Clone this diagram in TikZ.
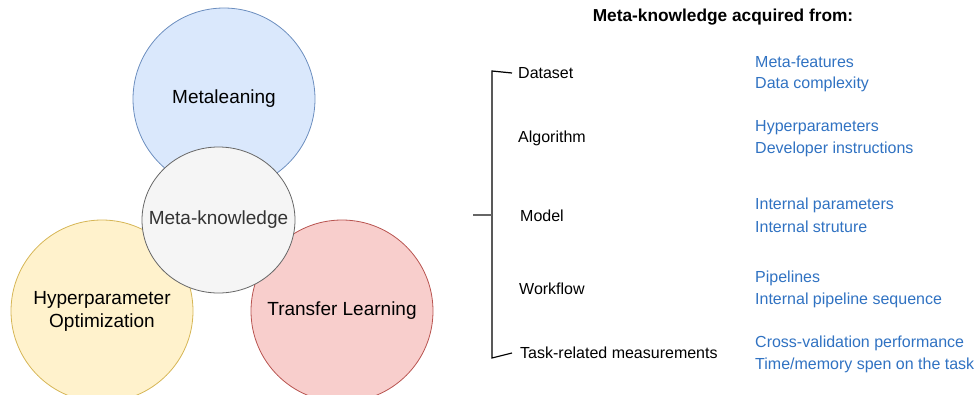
\documentclass[tikz,border=0pt]{standalone}
\usepackage{fontspec}
\setmainfont{Liberation Sans}
\usetikzlibrary{shapes.geometric}
\definecolor{bluefill}{HTML}{DAE8FC}\definecolor{bluedraw}{HTML}{6C8EBF}
\definecolor{grayfill}{HTML}{F5F5F5}\definecolor{graydraw}{HTML}{666666}
\definecolor{yelfill}{HTML}{FFF2CC}\definecolor{yeldraw}{HTML}{D6B656}
\definecolor{redfill}{HTML}{F8CECC}\definecolor{reddraw}{HTML}{B85450}
\definecolor{linkblue}{HTML}{3072C2}
\definecolor{darktext}{HTML}{333333}
\begin{document}
\begin{tikzpicture}[x=1pt,y=-1pt,
  bigcirc/.style={circle,minimum size=182pt,inner sep=0pt,line width=0.8pt,font=\fontsize{19}{23}\selectfont,align=center},
  label/.style={anchor=west,inner sep=0pt,font=\fontsize{16}{19}\selectfont},
  item/.style={anchor=west,inner sep=0pt,font=\fontsize{16}{19}\selectfont,text=linkblue},
  bracket/.style={line width=1.2pt,black}]
\useasboundingbox (0,0) rectangle (978,394);
\node[bigcirc,fill=bluefill,draw=bluedraw] (ml) at (224,99) {Metaleaning};
\node[bigcirc,fill=yelfill,draw=yeldraw] (hpo) at (102,311) {Hyperparameter\\Optimization};
\node[bigcirc,fill=redfill,draw=reddraw] (tl) at (342,311) {Transfer Learning};
\node[ellipse,minimum width=153pt,minimum height=146pt,inner sep=0pt,fill=grayfill,draw=graydraw,line width=0.8pt,font=\fontsize{19}{23}\selectfont,text=darktext] (mk) at (218.5,220) {\makebox[0pt]{Meta-knowledge}};

\node[inner sep=0pt,font=\bfseries\fontsize{17.3}{20}\selectfont] (title) at (723,17) {Meta-knowledge acquired from:};

\node[label] (ds) at (518,73) {Dataset};
\node[label] (alg) at (518,138) {Algorithm};
\node[label] (mod) at (520,216) {Model};
\node[label] (wf) at (519,289) {Workflow};
\node[label] (task) at (520,353) {Task-related measurements};

\node[item] (i1) at (755,62) {Meta-features};
\node[item] (i2) at (755,84) {Data complexity};
\node[item] (i3) at (755,128) {Hyperparameters};
\node[item] (i4) at (755,149) {Developer instructions};
\node[item] (i5) at (755,205) {Internal parameters};
\node[item] (i6) at (755,227) {Internal struture};
\node[item] (i7) at (755,278) {Pipelines};
\node[item] (i8) at (755,300) {Internal pipeline sequence};
\node[item] (i9) at (755,343) {Cross-validation performance};
\node[item] (i10) at (755,365) {Time/memory spen on the task};

\coordinate (btop) at (492,71);
\coordinate (bbot) at (492,358);
\coordinate (bmid) at (492,215);
\coordinate (stub) at (473,215);
\draw[bracket] (ds.west -| 512,0) -- (btop) -- (bbot) -- (task.west -| 512,0);
\draw[line width=1.4pt,graydraw] (stub) -- (bmid);
\end{tikzpicture}
\end{document}
